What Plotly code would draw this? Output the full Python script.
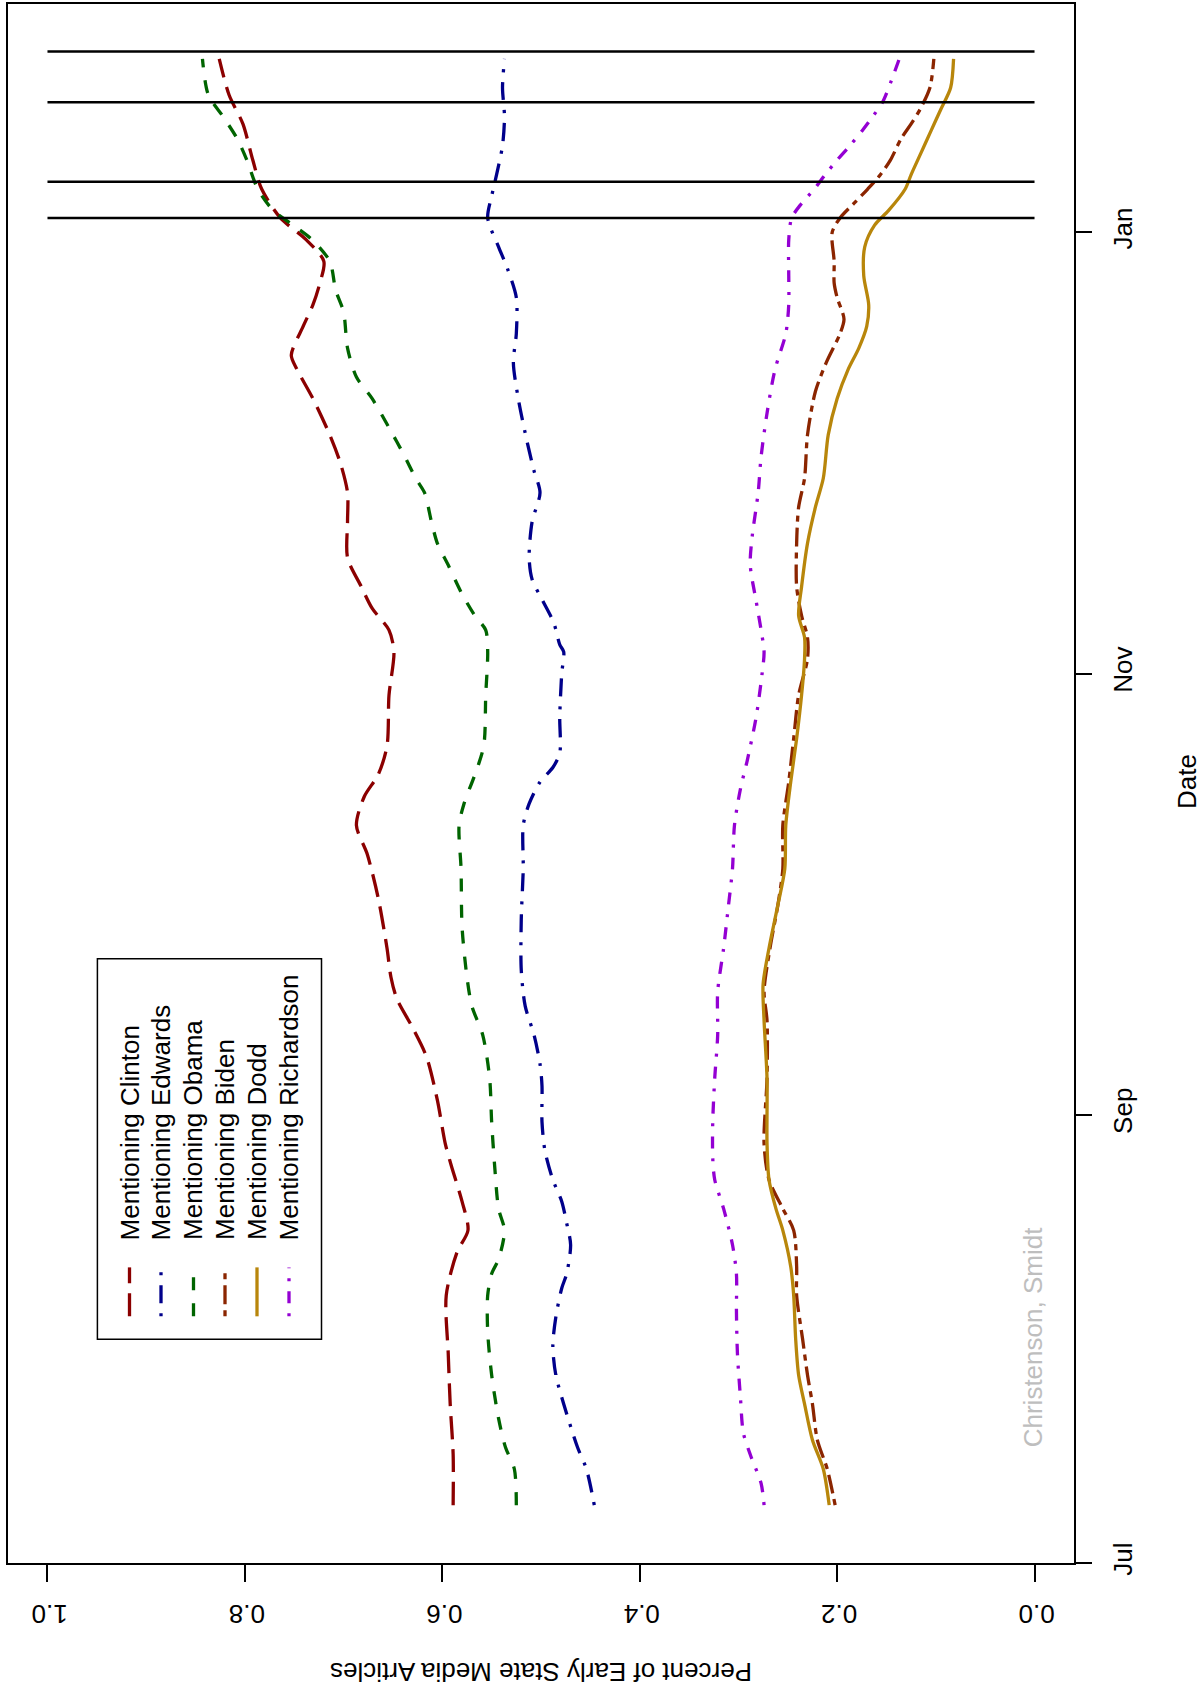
import plotly.graph_objects as go

# ---------------- data ----------------
clinton_dates = ["2007-07-09","2007-07-16","2007-07-23","2007-07-30","2007-08-07","2007-08-13","2007-08-16",
                 "2007-08-20","2007-08-25","2007-08-28","2007-09-03","2007-09-09","2007-09-13","2007-09-17",
                 "2007-09-20","2007-09-24","2007-10-01","2007-10-07","2007-10-11","2007-10-15","2007-10-18",
                 "2007-10-22","2007-10-29","2007-11-04","2007-11-07","2007-11-10","2007-11-13","2007-11-17",
                 "2007-11-22","2007-11-26","2007-11-30","2007-12-04","2007-12-09","2007-12-13","2007-12-15",
                 "2007-12-19","2007-12-22","2007-12-25","2007-12-28","2007-12-31","2008-01-03","2008-01-07",
                 "2008-01-11","2008-01-16","2008-01-20","2008-01-25"]
clinton_vals = [0.589,0.589,0.592,0.594,0.596,0.585,0.574,
                0.580,0.591,0.597,0.605,0.616,0.630,0.646,
                0.652,0.656,0.665,0.676,0.687,0.679,0.665,
                0.656,0.654,0.649,0.654,0.671,0.682,0.696,
                0.696,0.696,0.703,0.714,0.731,0.747,0.753,
                0.741,0.731,0.724,0.720,0.738,0.764,0.783,
                0.792,0.802,0.816,0.826]

edwards_dates = ["2007-07-09","2007-07-14","2007-07-17","2007-07-23","2007-07-27","2007-07-31","2007-08-04",
                 "2007-08-08","2007-08-10","2007-08-14","2007-08-17","2007-08-20","2007-08-23","2007-08-27",
                 "2007-08-31","2007-09-05","2007-09-08","2007-09-12","2007-09-16","2007-09-21","2007-09-28",
                 "2007-10-05","2007-10-11","2007-10-14","2007-10-17","2007-10-19","2007-10-21","2007-10-26",
                 "2007-11-01","2007-11-04","2007-11-05","2007-11-08","2007-11-11","2007-11-14","2007-11-17",
                 "2007-11-22","2007-11-26","2007-11-29","2007-12-03","2007-12-09","2007-12-14","2007-12-18",
                 "2007-12-23","2007-12-27","2007-12-30","2008-01-03","2008-01-06","2008-01-09","2008-01-13",
                 "2008-01-17","2008-01-21","2008-01-25"]
edwards_vals = [0.446,0.454,0.463,0.477,0.485,0.488,0.485,
                0.479,0.474,0.470,0.474,0.479,0.488,0.496,
                0.499,0.499,0.501,0.507,0.516,0.520,0.520,
                0.518,0.518,0.512,0.501,0.488,0.481,0.481,
                0.479,0.477,0.481,0.487,0.498,0.509,0.512,
                0.509,0.501,0.507,0.514,0.523,0.528,0.525,
                0.525,0.534,0.543,0.554,0.550,0.545,0.539,
                0.537,0.539,0.537]

obama_dates = ["2007-07-09","2007-07-14","2007-07-17","2007-07-21","2007-07-27","2007-08-02","2007-08-07",
               "2007-08-10","2007-08-12","2007-08-16","2007-08-19","2007-08-25","2007-08-31","2007-09-06",
               "2007-09-12","2007-09-16","2007-09-20","2007-09-27","2007-10-05","2007-10-11","2007-10-14",
               "2007-10-18","2007-10-22","2007-10-29","2007-11-04","2007-11-07","2007-11-09","2007-11-12",
               "2007-11-16","2007-11-19","2007-11-22","2007-11-26","2007-11-28","2007-12-01","2007-12-05",
               "2007-12-09","2007-12-12","2007-12-16","2007-12-21","2007-12-24","2007-12-28","2007-12-31",
               "2008-01-02","2008-01-04","2008-01-07","2008-01-11","2008-01-14","2008-01-17","2008-01-20",
               "2008-01-25"]
obama_vals = [0.525,0.527,0.536,0.543,0.550,0.554,0.554,
              0.550,0.543,0.537,0.543,0.547,0.550,0.552,
              0.559,0.570,0.575,0.580,0.581,0.583,0.578,
              0.567,0.558,0.556,0.554,0.556,0.567,0.580,
              0.594,0.605,0.611,0.618,0.627,0.638,0.654,
              0.671,0.687,0.696,0.700,0.708,0.714,0.732,
              0.751,0.771,0.787,0.798,0.808,0.822,0.837,
              0.843]

biden_dates = ["2007-07-09","2007-07-14","2007-07-18","2007-07-23","2007-07-27","2007-08-01","2007-08-07",
               "2007-08-11","2007-08-16","2007-08-19","2007-08-23","2007-08-28","2007-09-06","2007-09-14",
               "2007-09-18","2007-09-24","2007-09-30","2007-10-05","2007-10-11","2007-10-17","2007-10-23",
               "2007-10-29","2007-11-03","2007-11-06","2007-11-09","2007-11-13","2007-11-19","2007-11-24",
               "2007-11-28","2007-12-04","2007-12-10","2007-12-14","2007-12-18","2007-12-20","2007-12-23",
               "2007-12-25","2007-12-28","2008-01-01","2008-01-03","2008-01-05","2008-01-07","2008-01-09",
               "2008-01-11","2008-01-14","2008-01-16","2008-01-18","2008-01-21","2008-01-25"]
biden_vals = [0.202,0.210,0.220,0.225,0.230,0.235,0.241,
              0.241,0.244,0.255,0.269,0.274,0.271,0.271,
              0.274,0.268,0.260,0.255,0.255,0.249,0.244,
              0.239,0.230,0.230,0.236,0.241,0.241,0.239,
              0.233,0.230,0.222,0.211,0.197,0.193,0.200,
              0.203,0.203,0.205,0.197,0.183,0.169,0.156,
              0.146,0.135,0.125,0.116,0.106,0.102]

dodd_dates = ["2007-07-09","2007-07-14","2007-07-18","2007-07-23","2007-07-27","2007-08-01","2007-08-07",
              "2007-08-11","2007-08-16","2007-08-19","2007-08-23","2007-08-28","2007-09-06","2007-09-14",
              "2007-09-19","2007-09-24","2007-09-30","2007-10-05","2007-10-11","2007-10-17","2007-10-23",
              "2007-10-29","2007-11-03","2007-11-06","2007-11-09","2007-11-13","2007-11-19","2007-11-24",
              "2007-11-28","2007-12-04","2007-12-09","2007-12-13","2007-12-16","2007-12-19","2007-12-22",
              "2007-12-26","2007-12-30","2008-01-02","2008-01-04","2008-01-07","2008-01-09","2008-01-12",
              "2008-01-15","2008-01-18","2008-01-21","2008-01-25"]
dodd_vals = [0.208,0.214,0.225,0.233,0.239,0.242,0.244,
             0.247,0.255,0.262,0.269,0.271,0.271,0.274,
             0.275,0.269,0.260,0.253,0.252,0.247,0.241,
             0.236,0.233,0.233,0.239,0.236,0.230,0.222,
             0.214,0.209,0.200,0.189,0.178,0.170,0.168,
             0.173,0.172,0.162,0.148,0.131,0.125,0.115,
             0.105,0.095,0.085,0.082]

richardson_dates = ["2007-07-09","2007-07-12","2007-07-16","2007-07-19","2007-07-24","2007-07-30","2007-08-05",
                    "2007-08-10","2007-08-14","2007-08-19","2007-08-23","2007-08-26","2007-08-31","2007-09-06",
                    "2007-09-12","2007-09-18","2007-09-24","2007-09-30","2007-10-05","2007-10-11","2007-10-16",
                    "2007-10-20","2007-10-26","2007-11-01","2007-11-04","2007-11-07","2007-11-11","2007-11-16",
                    "2007-11-20","2007-11-26","2007-12-01","2007-12-07","2007-12-13","2007-12-18","2007-12-22",
                    "2007-12-26","2007-12-31","2008-01-03","2008-01-05","2008-01-07","2008-01-09","2008-01-11",
                    "2008-01-13","2008-01-15","2008-01-17","2008-01-19","2008-01-22","2008-01-25"]
richardson_vals = [0.274,0.277,0.288,0.295,0.298,0.301,0.302,
                   0.302,0.306,0.315,0.324,0.326,0.326,0.324,
                   0.321,0.321,0.315,0.310,0.306,0.304,0.298,
                   0.291,0.282,0.276,0.274,0.277,0.282,0.288,
                   0.286,0.280,0.277,0.271,0.263,0.252,0.249,
                   0.249,0.249,0.246,0.236,0.223,0.212,0.200,
                   0.187,0.175,0.164,0.154,0.145,0.137]

series_names = ["Mentioning Clinton","Mentioning Edwards","Mentioning Obama",
                "Mentioning Biden","Mentioning Dodd","Mentioning Richardson"]
series_colors = ["#8B0000","#00008B","#006400","#8B2500","#B8860B","#9400D3"]
series_dashes = ["23px,10px","3px,10px,18px,10px","13px,13px",
                 "6px,6px,19px,6px","solid","3px,10px,12px,10px"]

event_dates = ["2008-01-03","2008-01-08","2008-01-19","2008-01-26"]

pct_ticks = [0.0,0.2,0.4,0.6,0.8,1.0]
pct_labels = ["0.0","0.2","0.4","0.6","0.8","1.0"]
date_ticks = ["2007-07-01","2007-09-01","2007-11-01","2008-01-01"]
date_labels = ["Jul","Sep","Nov","Jan"]

# ---------------- figure ----------------
W, H = 1202, 1697
ml, mr, mt, mb = 8, 128, 2, 134
pw, ph = W - ml - mr, H - mt - mb
FONT = "Liberation Sans, Arial, Helvetica, sans-serif"

def px(x):
    return (x - ml) / pw

def py(y):
    return 1 - (y - mt) / ph

all_dates = [clinton_dates, edwards_dates, obama_dates, biden_dates, dodd_dates, richardson_dates]
all_vals = [clinton_vals, edwards_vals, obama_vals, biden_vals, dodd_vals, richardson_vals]

fig = go.Figure()
for name, d, v, c, ds in zip(series_names, all_dates, all_vals, series_colors, series_dashes):
    fig.add_trace(go.Scatter(x=v, y=d, mode="lines", name=name,
                             line=dict(color=c, width=3.3, dash=ds, shape="spline", smoothing=0.8),
                             showlegend=False, hoverinfo="skip"))

shapes = []
for ed in event_dates:
    shapes.append(dict(type="line", xref="x", yref="y", x0=0, x1=1, y0=ed, y1=ed,
                       line=dict(color="black", width=2.5)))

# legend box
shapes.append(dict(type="rect", xref="paper", yref="paper", x0=px(97.4), x1=px(321.5),
                   y0=py(1339), y1=py(958), line=dict(color="black", width=1.5)))
leg_x = [129.5, 161, 193.5, 225, 257, 289]
annotations = []
for cx, name, c, ds in zip(leg_x, series_names, series_colors, series_dashes):
    shapes.append(dict(type="line", xref="paper", yref="paper", x0=px(cx), x1=px(cx),
                       y0=py(1316), y1=py(1267), line=dict(color=c, width=3.3, dash=ds)))
    annotations.append(dict(text=name, x=px(cx), y=py(1242), xref="paper", yref="paper",
                            xanchor="center", yanchor="bottom", textangle=-90, showarrow=False,
                            font=dict(family=FONT, size=26, color="black")))

annotations.append(dict(text="Christenson, Smidt", x=px(1033), y=py(1337), xref="paper", yref="paper",
                        xanchor="center", yanchor="middle", textangle=-90, showarrow=False,
                        font=dict(family=FONT, size=26, color="#BEBEBE")))
annotations.append(dict(text="Date", x=px(1187), y=py(781), xref="paper", yref="paper",
                        xanchor="center", yanchor="middle", textangle=-90, showarrow=False,
                        font=dict(family=FONT, size=26, color="black")))
annotations.append(dict(text="Percent of Early State Media Articles", x=px(541), y=py(1672),
                        xref="paper", yref="paper", xanchor="center", yanchor="middle",
                        textangle=180, showarrow=False,
                        font=dict(family=FONT, size=26, color="black")))

fig.update_layout(
    width=W, height=H,
    margin=dict(l=ml, r=mr, t=mt, b=mb, pad=0),
    paper_bgcolor="white", plot_bgcolor="white",
    font=dict(family=FONT, size=26, color="black"),
    shapes=shapes, annotations=annotations,
    xaxis=dict(range=[1.04, -0.04], tickvals=pct_ticks, ticktext=pct_labels, tickangle=180,
               ticks="outside", ticklen=17, tickwidth=1.5, tickcolor="black",
               showline=True, mirror=True, linewidth=1.5, linecolor="black",
               showgrid=False, zeroline=False, ticklabelstandoff=18, ticklabelshift=16,
               tickfont=dict(family=FONT, size=26, color="black")),
    yaxis=dict(type="date", side="right", range=["2007-07-01", "2008-02-01 14:00"],
               tickvals=date_ticks, ticktext=date_labels, tickangle=-90,
               ticks="outside", ticklen=16, tickwidth=1.5, tickcolor="black",
               showline=True, mirror=True, linewidth=1.5, linecolor="black",
               showgrid=False, zeroline=False, ticklabelstandoff=9,
               tickfont=dict(family=FONT, size=26, color="black")),
)

fig.write_html("out.html", config={"displayModeBar": False},
               post_script="document.body.style.margin='0';document.body.style.overflow='hidden';")
